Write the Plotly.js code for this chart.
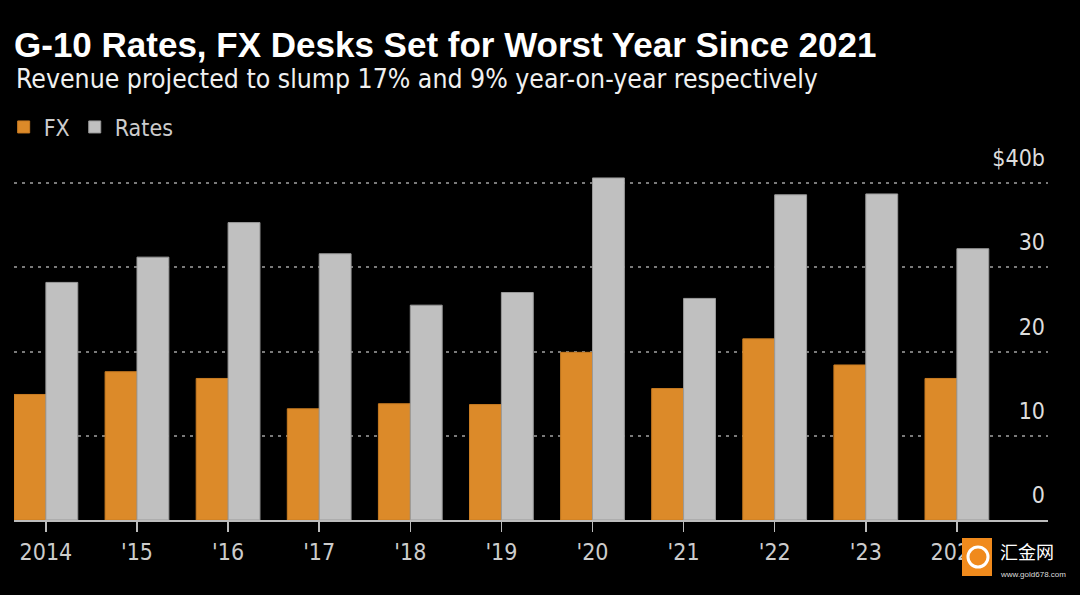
<!DOCTYPE html>
<html>
<head>
<meta charset="utf-8">
<script src="https://cdn.plot.ly/plotly-3.0.1.min.js"></script>
<style>html,body{margin:0;padding:0;background:#000;}#chart{width:1080px;height:595px;}</style>
</head>
<body>
<div id="chart"></div>
<script>
const years = ['2014', "'15", "'16", "'17", "'18", "'19", "'20", "'21", "'22", "'23", '2024'];
const fxRevenue = [14.9, 17.6, 16.8, 13.2, 13.8, 13.7, 19.9, 15.6, 21.5, 18.4, 16.8];
const ratesRevenue = [28.2, 31.2, 35.3, 31.6, 25.5, 27.0, 40.6, 26.3, 38.6, 38.7, 32.2];
const yTickVals = [0, 10, 20, 30, 40];
const yTickText = ['0', '10', '20', '30', '$40b'];

const FONT = 'Liberation Sans Narrow, DejaVu Sans Condensed, Roboto, Arial, sans-serif';

const traces = [
  {type: 'bar', name: 'FX', x: years, y: fxRevenue,
   marker: {color: '#dc8a29', line: {color: '#c97c22', width: 1}}, hoverinfo: 'skip'},
  {type: 'bar', name: 'Rates', x: years, y: ratesRevenue,
   marker: {color: '#c0c0c0', line: {color: '#9a9a9a', width: 1}}, hoverinfo: 'skip'}
];

const TOP = 100;
const px = v => (v - 14) / 1034;
const py = v => (520 - v) / (520 - TOP);

const layout = {
  width: 1080, height: 595,
  paper_bgcolor: '#000', plot_bgcolor: '#000',
  margin: {l: 14, r: 32, t: TOP, b: 75, autoexpand: false},
  font: {family: FONT, color: '#d0d0d0'},
  barmode: 'group', bargap: 0.3, bargroupgap: 0,
  title: {
    text: '<b>G-10 Rates, FX Desks Set for Worst Year Since 2021</b>',
    x: 14/1080, xanchor: 'left', xref: 'container',
    y: 1 - 45/595, yanchor: 'middle', yref: 'container',
    font: {family: 'Liberation Sans, Arial, sans-serif', size: 35, color: '#ffffff'}
  },
  annotations: [
    {text: 'Revenue projected to slump 17% and 9% year-on-year respectively',
     xref: 'paper', yref: 'paper', x: 0, xanchor: 'left',
     y: py(79), yanchor: 'middle', showarrow: false,
     font: {family: FONT, size: 26.4, color: '#f0f0f0'}},
    {text: '汇金网', xref: 'paper', yref: 'paper',
     x: px(998), y: py(551), xanchor: 'left', yanchor: 'middle',
     showarrow: false,
     font: {family: 'Noto Sans CJK SC, sans-serif', size: 18, color: '#ffffff'}},
    {text: 'www.gold678.com', xref: 'paper', yref: 'paper',
     x: px(998), y: py(574), xanchor: 'left', yanchor: 'middle',
     showarrow: false,
     font: {family: 'Liberation Sans, Arial, sans-serif', size: 8, color: '#dddddd'}}
  ],
  shapes: [
    {type: 'rect', xref: 'paper', yref: 'paper', layer: 'above',
     x0: px(962), x1: px(992), y0: py(576), y1: py(538),
     fillcolor: '#f08a1c', line: {width: 0}},
    {type: 'circle', xref: 'paper', yref: 'paper', layer: 'above',
     x0: px(968), x1: px(988), y0: py(567), y1: py(547),
     fillcolor: 'rgba(0,0,0,0)', line: {color: '#ffffff', width: 3}}
  ],
  showlegend: true,
  legend: {
    orientation: 'h', xref: 'paper', yref: 'paper',
    x: -0.01, xanchor: 'left', y: py(127), yanchor: 'middle',
    font: {family: FONT, size: 23, color: '#cccccc'},
    bgcolor: 'rgba(0,0,0,0)', itemwidth: 30, traceorder: 'normal'
  },
  xaxis: {
    type: 'category', range: [-0.35, 11.0], fixedrange: true,
    showline: true, linecolor: '#bdbdbd', linewidth: 2,
    ticks: 'outside', ticklen: 10, tickcolor: '#bdbdbd', tickwidth: 1.5,
    showgrid: false, zeroline: false,
    tickfont: {family: FONT, size: 23, color: '#cccccc'}
  },
  yaxis: {
    range: [0, (520 - TOP) / 8.425], fixedrange: true,
    side: 'right', ticklabelposition: 'inside', ticklabelshift: -25,
    tickvals: yTickVals, ticktext: yTickText,
    showgrid: true, gridcolor: '#7a7a7a', gridwidth: 2, griddash: '3px,5px',
    zeroline: false, showline: false, ticks: '',
    tickfont: {family: FONT, size: 23, color: '#dddddd'}
  }
};

Plotly.newPlot('chart', traces, layout, {displayModeBar: false, staticPlot: true});
</script>
</body>
</html>
